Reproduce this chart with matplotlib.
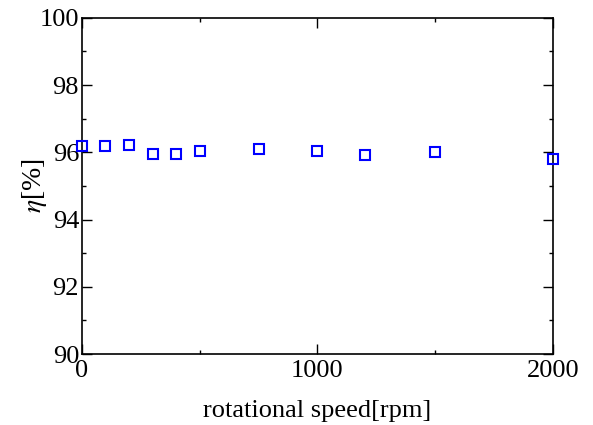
import matplotlib.pyplot as plt
from matplotlib.ticker import MultipleLocator

# datos
speed = [0, 100, 200, 300, 400, 500, 750, 1000, 1200, 1500, 2000]
eta = [96.19, 96.20, 96.23, 95.94, 95.95, 96.04, 96.10, 96.05, 95.91, 96.00, 95.79]

plt.rcParams['font.family'] = ['Liberation Serif', 'DejaVu Serif']
plt.rcParams['mathtext.fontset'] = 'stix'

fig = plt.figure(figsize=(5.93, 4.25), dpi=100)
ax = fig.add_axes([0.138, 0.167, 0.7945, 0.791])

ax.plot(speed, eta, linestyle='none', marker='s', markersize=6.5,
        markerfacecolor='none', markeredgecolor='#0000ff', markeredgewidth=1.5,
        clip_on=False, zorder=5)

ax.set_xlim(0, 2000)
ax.set_ylim(90, 100)
ax.xaxis.set_major_locator(MultipleLocator(1000))
ax.xaxis.set_minor_locator(MultipleLocator(500))
ax.yaxis.set_major_locator(MultipleLocator(2))
ax.yaxis.set_minor_locator(MultipleLocator(1))
ax.tick_params(which='both', direction='in', top=True, right=True, labelsize=19)
ax.tick_params(axis='x', pad=4)
ax.tick_params(axis='y', pad=2)
ax.tick_params(which='major', length=7, width=1)
ax.tick_params(which='minor', length=3, width=1)
for s in ax.spines.values():
    s.set_linewidth(1.2)

ax.set_xlabel('rotational speed[rpm]', fontsize=19, labelpad=13)
ax.set_ylabel(r'$\eta$[%]', fontsize=20, labelpad=-7)

fig.savefig('out.png', dpi=100)
